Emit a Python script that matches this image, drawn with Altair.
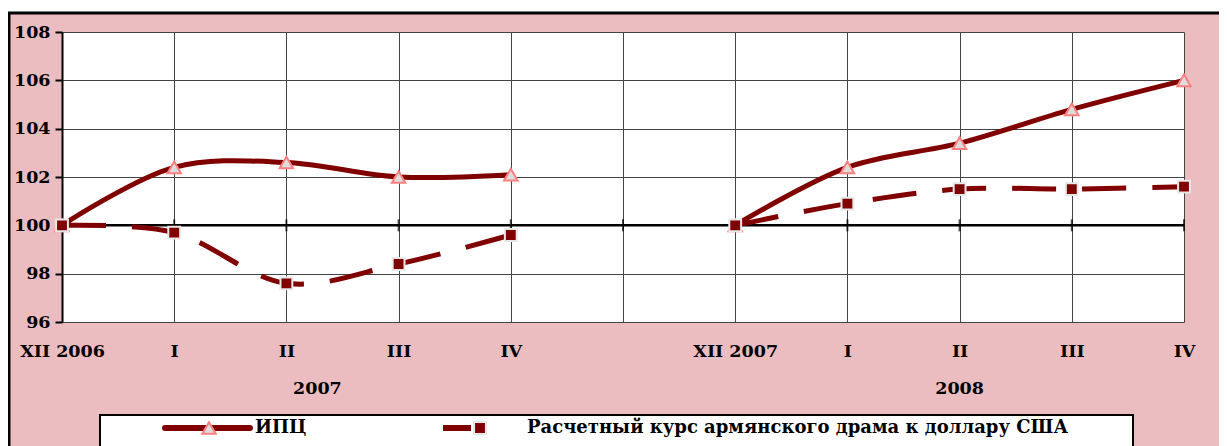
import altair as alt
import pandas as pd

# ---------------- data ----------------
labels = ["XII 2006", "I", "II", "III", "IV", "", "XII 2007", "I", "II", "III", "IV"]
ipc = [100, 102.4, 102.6, 102.0, 102.1, None, 100, 102.4, 103.4, 104.8, 106.0]
rate = [100, 99.7, 97.6, 98.4, 99.6, None, 100, 100.9, 101.5, 101.5, 101.6]
period = [1, 1, 1, 1, 1, 0, 2, 2, 2, 2, 2]
years = ["2007", "2008"]
year_pos = [2, 8]
series = ["ИПЦ", "Расчетный курс армянского драма к доллару США"]
y_ticks = [96, 98, 100, 102, 104, 106, 108]

rows = []
for i in range(len(labels)):
    if ipc[i] is not None:
        rows.append(dict(pos=i, value=ipc[i], series=series[0], period=period[i]))
    if rate[i] is not None:
        rows.append(dict(pos=i, value=rate[i], series=series[1], period=period[i]))
df = pd.DataFrame(rows)
df_ipc = df[df.series == series[0]]
df_rate = df[df.series == series[1]]

# ---------------- style ----------------
W, H = 1122, 290
FONT = "DejaVu Serif"
MAROON = "#800000"
PINK = "#ebbdc1"
FS = 17.5

label_expr = "[" + ",".join("'%s'" % l for l in labels) + "][datum.value]"

X = alt.X("pos:O",
          scale=alt.Scale(type="point", domain=list(range(len(labels))), padding=0),
          axis=alt.Axis(title=None, grid=True, gridColor="#444", gridWidth=1,
                        domain=False, ticks=False, labelAngle=0,
                        labelExpr=label_expr, labelFont=FONT, labelFontSize=FS,
                        labelFontWeight="bold", labelColor="black", labelPadding=20))
Y = alt.Y("value:Q",
          scale=alt.Scale(domain=[96, 108], nice=False, zero=False),
          axis=alt.Axis(title=None, values=y_ticks, grid=True, gridColor="#444", gridWidth=1,
                        domainColor="black", domainWidth=2, tickColor="black", tickWidth=2,
                        tickSize=7, labelFont=FONT, labelFontSize=FS, labelFontWeight="bold",
                        labelColor="black", labelPadding=5))

one = pd.DataFrame({"a": [0]})

# outer frame
top_strip = alt.Chart(one).mark_rect(fill="white").encode(
    x=alt.value(-60), x2=alt.value(1200), y=alt.value(-30), y2=alt.value(-20))
frame = alt.Chart(one).mark_rect(fill=None, stroke="black", strokeWidth=3).encode(
    x=alt.value(-53), x2=alt.value(1200), y=alt.value(-19), y2=alt.value(440))

# baseline at 100 with crossing ticks
base_df = pd.DataFrame({"pos": list(range(len(labels))), "value": [100] * len(labels)})
base_rule = alt.Chart(base_df.head(1)).mark_rule(color="black", strokeWidth=2.5).encode(
    y=Y, x=alt.value(0), x2=alt.value(W))
base_ticks = alt.Chart(base_df).mark_tick(orient="vertical", color="black", size=12,
                                         thickness=2).encode(x=X, y=Y)

# series
line_ipc = alt.Chart(df_ipc).mark_line(color=MAROON, strokeWidth=5,
                                       interpolate="catmull-rom").encode(
    x=X, y=Y, detail="period:N")
pts_ipc = alt.Chart(df_ipc).mark_point(shape="triangle-up", filled=True, fill="#dcdcdc",
                                       stroke="#ff7f7f", strokeWidth=2, size=180,
                                       opacity=1).encode(x=X, y=Y)
line_rate = alt.Chart(df_rate).mark_line(color=MAROON, strokeWidth=5, strokeDash=[44, 26],
                                         interpolate="catmull-rom").encode(
    x=X, y=Y, detail="period:N")
pts_rate = alt.Chart(df_rate).mark_point(shape="square", filled=True, fill=MAROON,
                                         stroke="#e8e8e8", strokeWidth=2, size=140,
                                         opacity=1).encode(x=X, y=Y)

# year labels
ydf = pd.DataFrame({"pos": year_pos, "year": years})
year1 = alt.Chart(ydf.head(1)).mark_text(font=FONT, fontSize=FS, fontWeight="bold",
                                         color="black", dx=31).encode(
    x=X, y=alt.value(357), text="year:N")
year2 = alt.Chart(ydf.tail(1)).mark_text(font=FONT, fontSize=FS, fontWeight="bold",
                                         color="black").encode(
    x=X, y=alt.value(357), text="year:N")

# legend
LY = 396
leg_box = alt.Chart(one).mark_rect(fill="white", stroke="black", strokeWidth=2).encode(
    x=alt.value(38), x2=alt.value(1071), y=alt.value(383), y2=alt.value(450))
leg_l1 = alt.Chart(one).mark_rule(color=MAROON, strokeWidth=6, strokeCap="round").encode(
    x=alt.value(103), x2=alt.value(188), y=alt.value(LY))
leg_p1 = alt.Chart(one).mark_point(shape="triangle-up", filled=True, fill="#dcdcdc",
                                   stroke="#ff7f7f", strokeWidth=2, size=180, opacity=1).encode(
    x=alt.value(147), y=alt.value(LY))
leg_l2 = alt.Chart(one).mark_rule(color=MAROON, strokeWidth=6, strokeDash=[28, 30]).encode(
    x=alt.value(381), x2=alt.value(438), y=alt.value(LY))
leg_p2 = alt.Chart(one).mark_point(shape="square", filled=True, fill=MAROON,
                                   stroke="#e8e8e8", strokeWidth=2, size=140, opacity=1).encode(
    x=alt.value(418), y=alt.value(LY))
tdf = pd.DataFrame({"t": series})
leg_t1 = alt.Chart(tdf.head(1)).mark_text(font=FONT, fontSize=18, fontWeight="bold",
                                          color="black", align="left").encode(
    x=alt.value(193), y=alt.value(LY), text="t:N")
leg_t2 = alt.Chart(tdf.tail(1)).mark_text(font=FONT, fontSize=18, fontWeight="bold",
                                          color="black", align="left").encode(
    x=alt.value(465), y=alt.value(LY), text="t:N")

chart = alt.layer(
    top_strip, frame, base_rule, base_ticks,
    line_ipc, pts_ipc, line_rate, pts_rate,
    year1, year2,
    leg_box, leg_l1, leg_p1, leg_l2, leg_p2, leg_t1, leg_t2,
).properties(
    width=W, height=H, background=PINK,
    padding={"left": 54, "top": 24, "right": 35, "bottom": 124},
    autosize=alt.AutoSizeParams(type="none"),
).configure_view(fill="white", stroke=None)

chart.save("out.html", embed_options={"renderer": "svg", "actions": False})
